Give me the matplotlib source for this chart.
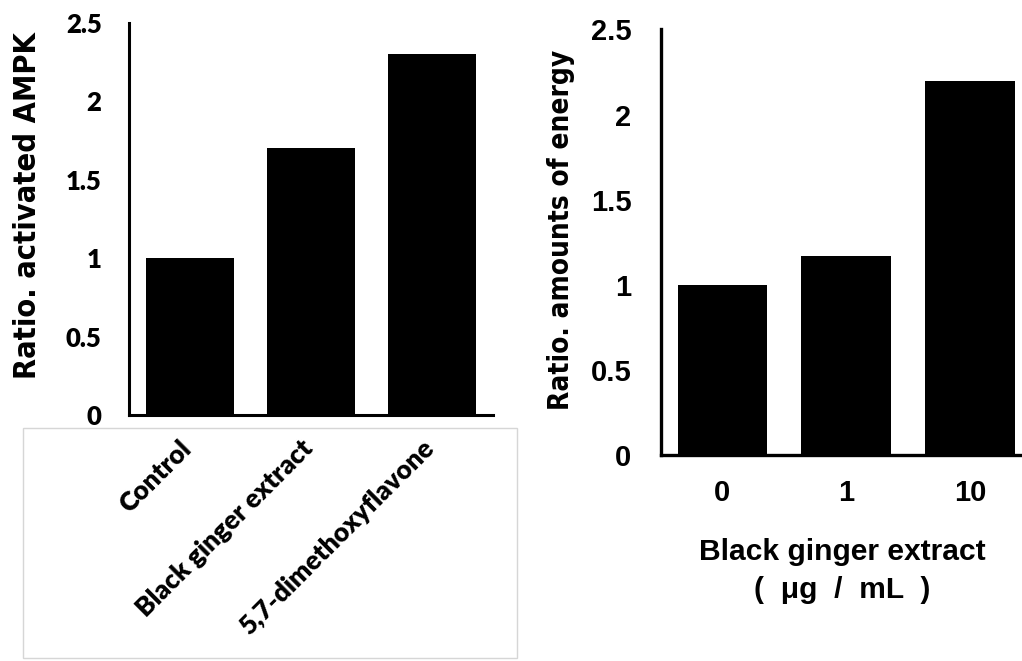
import matplotlib
matplotlib.use("Agg")
import matplotlib.pyplot as plt
from matplotlib import font_manager as fm
from matplotlib.patches import Rectangle
from matplotlib.transforms import ScaledTranslation

# Data
left_categories = ["Control", "Black ginger extract", "5,7-dimethoxyflavone"]
left_values = [1.0, 1.7, 2.3]
left_ylabel = "Ratio. activated AMPK"

right_categories = ["0", "1", "10"]
right_values = [1.0, 1.17, 2.2]
right_ylabel = "Ratio. amounts of energy"
right_xlabel = "Black ginger extract\n(  \u03bcg  /  mL  )"

yticks = [0, 0.5, 1, 1.5, 2, 2.5]
ytick_labels = ["0", "0.5", "1", "1.5", "2", "2.5"]

# look for a condensed bold font (optional)
narrow = None
for f in fm.fontManager.ttflist:
    n = (f.fname + " " + f.name).lower()
    if ("narrow" in n or "condensed" in n) and f.weight in ("bold", 700) and f.style == "normal":
        narrow = f.fname
        break
if narrow:
    narrow_fp = dict(fontproperties=fm.FontProperties(fname=narrow))
    left_ls, right_ls = 22.1, 20.1
else:
    narrow_fp = dict(fontfamily="Liberation Sans", fontweight="bold")
    left_ls, right_ls = 23.4, 21.6

W, H = 1022, 661
fig = plt.figure(figsize=(W / 100, H / 100), dpi=100)

def box(x0, y_top, x1, y_bottom):
    return [x0 / W, 1 - y_bottom / H, (x1 - x0) / W, (y_bottom - y_top) / H]

# ---------- left chart ----------
axL = fig.add_axes(box(129.3, 23, 492.7, 415))
axL.bar(range(len(left_values)), left_values, width=0.725, color="black")
axL.set_xlim(-0.5, 2.5)
axL.set_ylim(0, 2.5)
axL.set_yticks(yticks)
axL.set_yticklabels(ytick_labels, fontfamily="Lato", fontweight="heavy", fontsize=18.5)
axL.set_xticks(range(len(left_categories)))
axL.set_xticklabels(left_categories, rotation=45, ha="right", rotation_mode="anchor",
                    fontfamily="Lato", fontweight="heavy", fontsize=19)
axL.tick_params(axis="y", length=0, pad=20)
axL.tick_params(axis="x", length=0, pad=11)
shift = ScaledTranslation(-8 / 72, -4 / 72, fig.dpi_scale_trans)
for lbl in axL.get_xticklabels():
    lbl.set_transform(lbl.get_transform() + shift)
for s in ["top", "right"]:
    axL.spines[s].set_visible(False)
for s in ["left", "bottom"]:
    axL.spines[s].set_linewidth(2.2)
lab = axL.set_ylabel(left_ylabel, fontsize=left_ls, **narrow_fp)
lab.set_va("center")
axL.yaxis.set_label_coords((27.5 - 129.3) / 363.4, (415 - 205.5) / 392)

# light gray frame around the rotated labels
fig.patches.append(Rectangle((23.3 / W, 1 - 658.3 / H), (517.3 - 23.3) / W, (658.3 - 428.3) / H,
                             transform=fig.transFigure, fill=False,
                             edgecolor="#d6d6d6", linewidth=1.0))

# ---------- right chart ----------
axR = fig.add_axes(box(660.6, 29.5, 1031.9, 455))
axR.bar(range(len(right_values)), right_values, width=0.725, color="black")
axR.set_xlim(-0.5, 2.5)
axR.set_ylim(0, 2.5)
axR.set_yticks(yticks)
axR.set_yticklabels(ytick_labels, fontfamily="Liberation Sans", fontweight="bold", fontsize=21)
axR.set_xticks(range(len(right_categories)))
axR.set_xticklabels(right_categories, fontfamily="Liberation Sans", fontweight="bold", fontsize=21)
axR.tick_params(axis="y", length=0, pad=21)
axR.tick_params(axis="x", length=0, pad=17)
for s in ["top", "right"]:
    axR.spines[s].set_visible(False)
for s in ["left", "bottom"]:
    axR.spines[s].set_linewidth(2.4)
lab = axR.set_ylabel(right_ylabel, fontsize=right_ls, **narrow_fp)
lab.set_va("center")
axR.yaxis.set_label_coords((561 - 660.6) / 371.3, (455 - 230) / 425.5)
xl = axR.set_xlabel(right_xlabel, fontfamily="Liberation Sans", fontweight="bold", fontsize=21.6,
                    linespacing=1.45)
xl.set_va("top")
axR.xaxis.set_label_coords((842 - 660.6) / 371.3, -(538 - 455) / 425.5)

fig.savefig("out.png", dpi=100)
